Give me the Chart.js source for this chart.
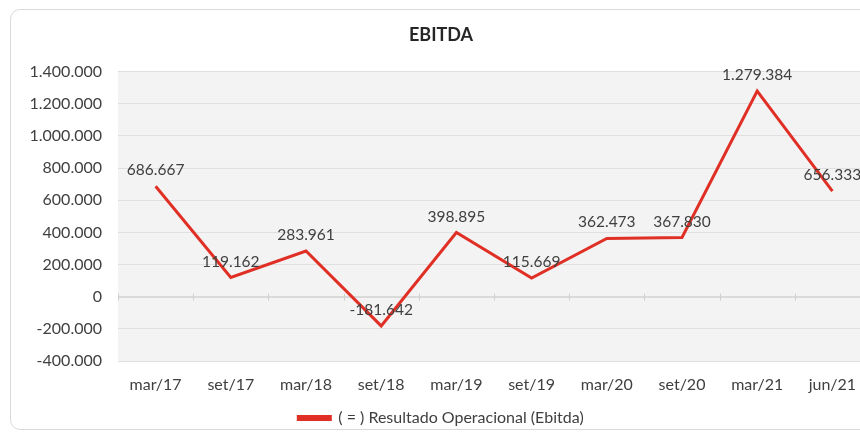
<!DOCTYPE html>
<html>
<head>
<meta charset="utf-8">
<script src="https://cdn.jsdelivr.net/npm/chart.js@4/dist/chart.umd.min.js"></script>
<style>
  html, body { margin: 0; padding: 0; background: #fff; overflow: hidden; }
  #wrap { position: relative; width: 860px; height: 436px; overflow: hidden; }
  #card { position: absolute; left: 10px; top: 9px; width: 880px; height: 421px;
          border: 1px solid #d9d9d9; border-radius: 10px; box-sizing: border-box; }
  canvas { position: absolute; left: 0; top: 0; }
</style>
</head>
<body>
<div id="wrap">
  <div id="card"></div>
  <canvas id="chart" width="870" height="436"></canvas>
</div>
<script>
// dados do gráfico
const periodos = ['mar/17', 'set/17', 'mar/18', 'set/18', 'mar/19', 'set/19', 'mar/20', 'set/20', 'mar/21', 'jun/21'];
const ebitda = [686667, 119162, 283961, -181642, 398895, 115669, 362473, 367830, 1279384, 656333];
const serieNome = '( = ) Resultado Operacional (Ebitda)';
const eixoMin = -400000;
const eixoMax = 1400000;
const eixoPasso = 200000;

const FONT = 'Lato';
const TXT = '#404040';
const RED = '#e03025';

function fmt(v) {
  const s = String(Math.abs(Math.round(v))).replace(/\B(?=(\d{3})+(?!\d))/g, '.');
  return (v < 0 ? '-' : '') + s;
}

// fundo cinza da área de plotagem + linha do zero com marcas
const plotBg = {
  id: 'plotBg',
  beforeDraw(chart) {
    const { ctx, chartArea: a } = chart;
    ctx.save();
    ctx.fillStyle = '#f3f3f3';
    ctx.fillRect(a.left, a.top, a.right - a.left, a.bottom - a.top);
    ctx.restore();
  },
  beforeDatasetsDraw(chart) {
    const { ctx, chartArea: a, scales } = chart;
    const y0 = scales.y.getPixelForValue(0);
    ctx.save();
    ctx.strokeStyle = '#cfcfcf';
    ctx.lineWidth = 1;
    ctx.beginPath();
    ctx.moveTo(a.left, y0 + 0.5);
    ctx.lineTo(a.right, y0 + 0.5);
    const x = scales.x;
    for (let i = 0; i <= periodos.length; i++) {
      const px = Math.round(x.getPixelForValue(i - 0.5)) + 0.5;
      ctx.moveTo(px, y0 - 3);
      ctx.lineTo(px, y0 + 4);
    }
    ctx.stroke();
    ctx.restore();
  }
};

// rótulos de dados acima de cada ponto
const dataLabels = {
  id: 'dataLabels',
  afterDatasetsDraw(chart) {
    const { ctx } = chart;
    const meta = chart.getDatasetMeta(0);
    ctx.save();
    ctx.font = '15.5px ' + FONT;
    ctx.fillStyle = TXT;
    ctx.textAlign = 'center';
    ctx.textBaseline = 'middle';
    meta.data.forEach((pt, i) => {
      ctx.fillText(fmt(ebitda[i]), pt.x, pt.y - 16);
    });
    ctx.restore();
  }
};

new Chart(document.getElementById('chart'), {
  type: 'line',
  data: {
    labels: periodos,
    datasets: [{
      label: serieNome,
      data: ebitda,
      borderColor: RED,
      backgroundColor: RED,
      borderWidth: 3,
      pointRadius: 0,
      tension: 0
    }]
  },
  options: {
    responsive: false,
    animation: false,
    devicePixelRatio: 1,
    layout: { padding: { top: 0, right: 0, bottom: 0, left: 12 } },
    scales: {
      x: {
        offset: true,
        grid: { display: false },
        border: { display: false },
        ticks: { color: TXT, font: { family: FONT, size: 16 }, padding: 6, maxRotation: 0 },
        afterFit(s) { s.height = 40; }
      },
      y: {
        min: eixoMin,
        max: eixoMax,
        ticks: { stepSize: eixoPasso, color: TXT, font: { family: FONT, size: 16 }, padding: 16, callback: v => fmt(v) },
        grid: { color: '#e0e0e0', drawTicks: false },
        border: { display: false },
        afterFit(s) { s.width = 106; }
      }
    },
    plugins: {
      title: {
        display: true,
        text: 'EBITDA',
        color: '#262626',
        font: { family: FONT, size: 18, weight: 'bold' },
        padding: { top: 24, bottom: 26 }
      },
      legend: {
        position: 'bottom',
        labels: {
          color: TXT,
          font: { family: FONT, size: 16 },
          boxWidth: 32,
          boxHeight: 3,
          padding: 9
        }
      },
      tooltip: { enabled: false }
    }
  },
  plugins: [plotBg, dataLabels]
});
</script>
</body>
</html>
